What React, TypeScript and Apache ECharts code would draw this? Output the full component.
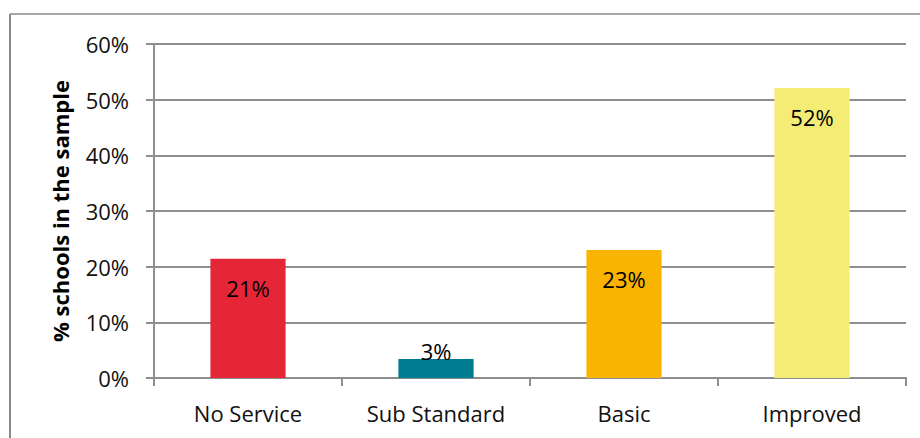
import React, { useEffect, useRef } from "react";
import * as echarts from "echarts";

const categories = ["No Service", "Sub Standard", "Basic", "Improved"];
const values = [21.4, 3.4, 23.0, 52.1];
const barColors = ["#E52636", "#007C92", "#F8B400", "#F5EC76"];
const yTicks = { min: 0, max: 60, interval: 10 };
const yAxisTitle = "% schools in the sample";

const FONT = "'Open Sans', 'DejaVu Sans', sans-serif";

export default function App() {
  const ref = useRef<HTMLDivElement>(null);
  useEffect(() => {
    if (!ref.current) return;
    const chart = echarts.init(ref.current, undefined, { renderer: "svg" });
    const axisGray = "#8e8e8e";
    chart.setOption({
      animation: false,
      backgroundColor: "#ffffff",
      grid: { left: 154, right: 14, top: 44, bottom: 60, containLabel: false },
      graphic: [
        {
          type: "line",
          shape: { x1: 10, y1: 14, x2: 925, y2: 14 },
          style: { stroke: "#8a8a8a", lineWidth: 1.5 },
          silent: true,
        },
        {
          type: "line",
          shape: { x1: 10, y1: 14, x2: 10, y2: 445 },
          style: { stroke: "#8a8a8a", lineWidth: 2 },
          silent: true,
        },
      ],
      xAxis: {
        type: "category",
        data: categories,
        boundaryGap: true,
        axisLine: { show: true, lineStyle: { color: axisGray, width: 2 } },
        axisTick: { show: true, inside: false, length: 8, alignWithLabel: false, lineStyle: { color: axisGray, width: 2 } },
        axisLabel: { color: "#111", fontFamily: FONT, fontSize: 22, margin: 24 },
        splitLine: { show: false },
      },
      yAxis: {
        type: "value",
        min: yTicks.min,
        max: yTicks.max,
        interval: yTicks.interval,
        name: yAxisTitle,
        nameLocation: "middle",
        nameGap: 83,
        nameRotate: 90,
        nameTextStyle: { color: "#000", fontFamily: FONT, fontSize: 22, fontWeight: "bold" },
        axisLine: { show: true, lineStyle: { color: axisGray, width: 2 } },
        axisTick: { show: true, inside: false, length: 8, lineStyle: { color: axisGray, width: 2 } },
        axisLabel: {
          color: "#111",
          fontFamily: FONT,
          fontSize: 22,
          margin: 25,
          formatter: (v: number) => `${v}%`,
        },
        splitLine: { show: true, lineStyle: { color: axisGray, width: 2 } },
      },
      series: [
        {
          type: "bar",
          barWidth: "40%",
          data: values.map((v, i) => {
            const small = v < 8;
            return {
              value: v,
              itemStyle: { color: barColors[i] },
              label: small
                ? { show: true, position: "top", distance: -3 }
                : { show: true, position: "insideTop", distance: 18 },
            };
          }),
          label: {
            show: true,
            color: "#000",
            fontFamily: FONT,
            fontSize: 22,
            formatter: (p: any) => `${Math.round(p.value)}%`,
          },
        },
      ],
    });
    return () => chart.dispose();
  }, []);
  return (
    <div
      ref={ref}
      style={{ position: "absolute", left: 0, top: 0, width: 920, height: 438 }}
    />
  );
}
